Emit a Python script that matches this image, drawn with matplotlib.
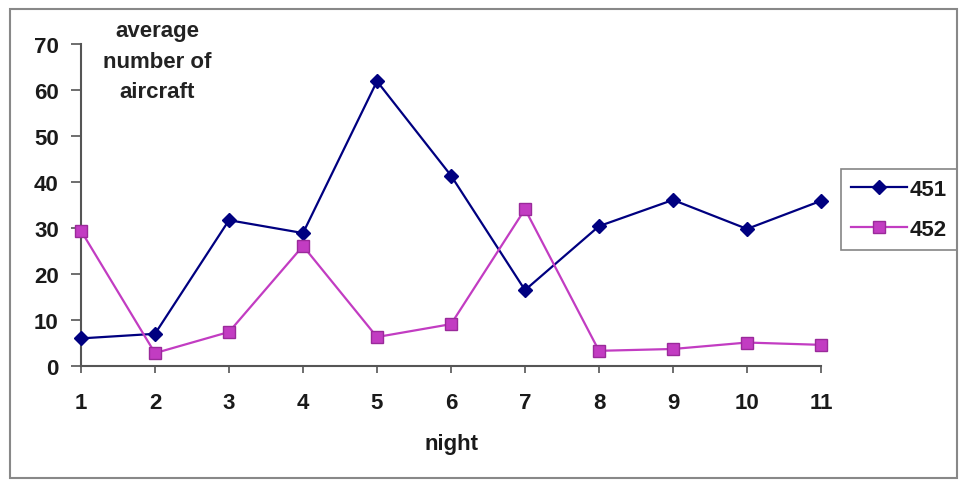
import matplotlib.pyplot as plt
from matplotlib.patches import Rectangle

plt.rcParams['font.family'] = ['Liberation Sans', 'DejaVu Sans']
plt.rcParams['font.weight'] = 'bold'

# nightly averages for the two routes
nights = [1, 2, 3, 4, 5, 6, 7, 8, 9, 10, 11]
r451 = [6.0, 7.0, 31.7, 28.9, 61.9, 41.4, 16.5, 30.4, 36.1, 29.8, 35.9]
r452 = [29.4, 2.8, 7.4, 26.1, 6.3, 9.1, 34.1, 3.3, 3.7, 5.1, 4.6]
yticks = [0, 10, 20, 30, 40, 50, 60, 70]

fig = plt.figure(figsize=(9.59, 4.81), dpi=100)
ax = fig.add_axes([81 / 959, 114 / 481, 740 / 959, 322 / 481])

ax.plot(nights, r451, color='#000080', lw=1.6, marker='D', ms=7,
        mfc='#000080', mec='#000080', label='451', clip_on=False, zorder=3)
ax.plot(nights, r452, color='#c23cc2', lw=1.6, marker='s', ms=8,
        mfc='#c23cc2', mec='#9a2a9a', label='452', clip_on=False, zorder=3)

ax.set_xlim(1, 11)
ax.set_ylim(0, 70)
ax.set_xticks(nights)
ax.set_yticks(yticks)
ax.tick_params(axis='both', labelsize=16, color='#555555', width=1.2,
               labelcolor='#1a1a1a')
ax.tick_params(axis='y', length=7, pad=9)
ax.tick_params(axis='x', length=5, pad=14)

for s in ['top', 'right']:
    ax.spines[s].set_visible(False)
for s in ['left', 'bottom']:
    ax.spines[s].set_color('#555555')
    ax.spines[s].set_linewidth(1.5)

ax.set_xlabel('night', fontsize=16, fontweight='bold', labelpad=14,
              color='#1a1a1a')
fig.text(157 / 959, 1 - 21 / 481, 'average\nnumber of\naircraft', ha='center',
         va='top', fontsize=16, fontweight='bold', color='#222222',
         linespacing=1.6)

leg = ax.legend(loc='upper left', bbox_to_anchor=(841 / 959, 1 - 170 / 481),
                bbox_transform=fig.transFigure, fontsize=16, frameon=True,
                fancybox=False, edgecolor='#666666', borderpad=0.45,
                borderaxespad=0, handlelength=2.5, handletextpad=0.15,
                labelspacing=0.85)
leg.get_frame().set_linewidth(1.2)
for t in leg.get_texts():
    t.set_color('#1a1a1a')

fig.patches.append(Rectangle((10 / 959, 2 / 481), 947 / 959, 469 / 481,
                             transform=fig.transFigure, fill=False,
                             edgecolor='#888888', lw=1.5))

fig.savefig('out.png', dpi=100)
